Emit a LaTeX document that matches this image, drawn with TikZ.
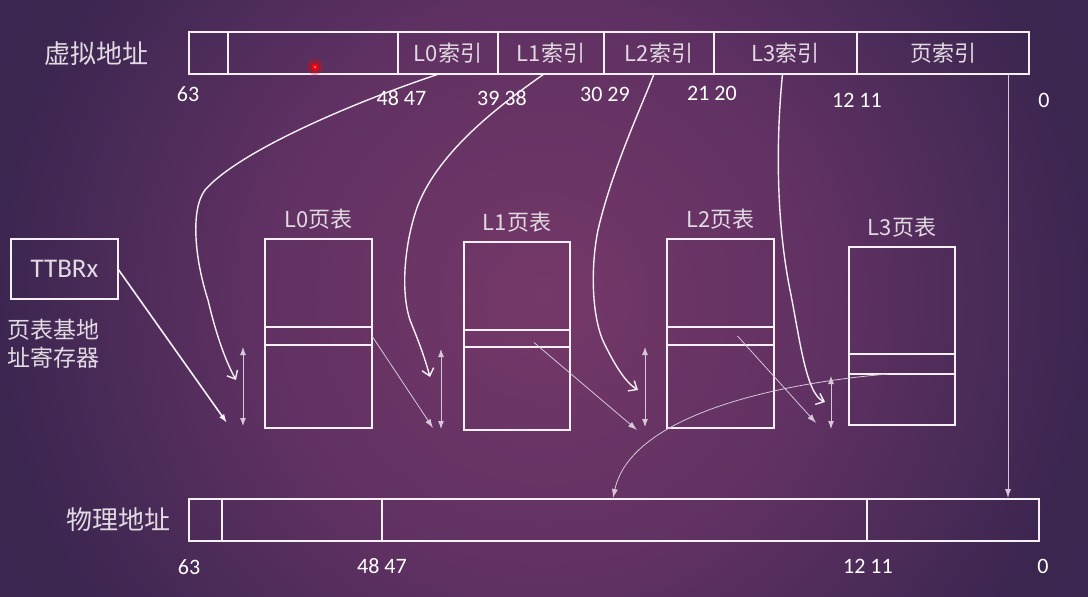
\documentclass[tikz,border=0pt]{standalone}
\usepackage{fontspec}
\setmainfont{Carlito}
\newfontfamily\cjk{Noto Sans CJK SC}
\usetikzlibrary{positioning,arrows.meta}
\definecolor{bgin}{HTML}{753868}
\definecolor{bgmid}{HTML}{5F3162}
\definecolor{bgout}{HTML}{3B2650}
\definecolor{bgedge}{HTML}{33234A}
\definecolor{ink}{HTML}{E2DAE2}
\definecolor{wire}{HTML}{F4F0F4}
\definecolor{faint}{HTML}{D6C8D6}
\pgfdeclareradialshading{bgglow}{\pgfpoint{0bp}{0bp}}{color(0bp)=(bgin); color(12bp)=(bgmid); color(23bp)=(bgout); color(50bp)=(bgedge)}

\begin{document}
\begin{tikzpicture}[x=1pt, y=-1pt,
  every node/.style={outer sep=0pt, inner sep=0pt},
  cell/.style={draw=wire, line width=1.6pt, minimum height=42pt},
  tbl/.style={draw=wire, line width=1.8pt},
  field/.style={text=ink, font=\cjk\fontsize{22}{24}\selectfont},
  bits/.style={text=white, font=\fontsize{22}{24}\selectfont},
  title/.style={text=ink, font=\cjk\fontsize{26}{28}\selectfont},
  hand/.style={draw=wire, line width=1.4pt, -{Straight Barb[length=7pt,width=12pt]}},
  span/.style={draw=faint, line width=0.9pt, {Latex[length=8pt,width=6pt]}-{Latex[length=8pt,width=6pt]}},
  ptr/.style={draw=faint, line width=0.8pt, -{Latex[length=9pt,width=6pt]}}]
\useasboundingbox (0,0) rectangle (1088,597);
\begin{scope}
\clip (0,0) rectangle (1088,597);
\shade[shading=bgglow] (-56,-302) rectangle (1144,898);
\end{scope}

\node[title] (vname) at (97,54) {虚拟地址};
\node[cell, minimum width=39pt] (v63) at (208.5,53) {};
\node[cell, minimum width=170pt] (vHi) at (313,53) {};
\node[cell, field, minimum width=100pt] (vL0) at (448,53) {L0索引};
\node[cell, field, minimum width=106pt] (vL1) at (551,53) {L1索引};
\node[cell, field, minimum width=110pt] (vL2) at (659,53) {L2索引};
\node[cell, field, minimum width=143pt] (vL3) at (785.5,53) {L3索引};
\node[cell, field, minimum width=172pt] (vPg) at (943,53) {页索引};

\node[bits] (b63) at (188,94) {63};
\node[bits] (b48) at (401.5,98) {48 47};
\node[bits] (b39) at (502,98) {39 38};
\node[bits] (b30) at (605,94) {30 29};
\node[bits] (b21) at (712,93) {21 20};
\node[bits] (b12) at (857,100) {12 11};
\node[bits] (b0) at (1044,100) {0};

\node[tbl, minimum width=107pt, minimum height=60pt, text=ink, font=\fontsize{27}{28}\selectfont] (ttbr) at (64.5,269) {TTBRx};
\node[title, align=left, font=\cjk\fontsize{23}{28}\selectfont] (ttbrname) at (54,344) {页表基地\\址寄存器};

\node[tbl, minimum width=107pt, minimum height=189pt] (t0) at (318.5,333.5) {};
\node[tbl, minimum width=107pt, minimum height=18pt] (e0) at (318.5,336) {};
\node[tbl, minimum width=106pt, minimum height=188pt] (t1) at (517,336) {};
\node[tbl, minimum width=106pt, minimum height=17pt] (e1) at (517,338.5) {};
\node[tbl, minimum width=107pt, minimum height=189pt] (t2) at (720.5,333.5) {};
\node[tbl, minimum width=107pt, minimum height=18pt] (e2) at (720.5,336) {};
\node[tbl, minimum width=106pt, minimum height=178pt] (t3) at (902,336) {};
\node[tbl, minimum width=106pt, minimum height=20pt] (e3) at (902,364) {};
\node[field, above=10pt of t0] (n0) {L0页表};
\node[field, above=10pt of t1] (n1) {L1页表};
\node[field, above=10pt of t2] (n2) {L2页表};
\node[field, above=10pt of t3] (n3) {L3页表};

\node[title] (pname) at (118,520) {物理地址};
\node[cell, minimum width=33pt] (p63) at (205.5,520) {};
\node[cell, minimum width=160pt] (pHi) at (302,520) {};
\node[cell, minimum width=485pt] (pMid) at (624.5,520) {};
\node[cell, minimum width=172pt] (pLo) at (953,520) {};
\node[bits] (c63) at (189,567) {63};
\node[bits] (c48) at (382,566) {48 47};
\node[bits] (c12) at (868,566) {12 11};
\node[bits] (c0) at (1043,566) {0};

\coordinate (a0) at (236,380);
\coordinate (a1) at (430,377);
\coordinate (a2) at (638,390);
\coordinate (a3) at (825,402);
\coordinate (d0t) at (243,347);
\coordinate (d0b) at (243,426);
\coordinate (d1t) at (441,349);
\coordinate (d1b) at (441,429);
\coordinate (d2t) at (645,347);
\coordinate (d2b) at (645,427);
\coordinate (d3t) at (831,376);
\coordinate (d3b) at (831,429);
\coordinate (q0) at (227,423);
\coordinate (q1) at (433,428);
\coordinate (q2) at (637,430);
\coordinate (q3) at (816,423);
\coordinate (q4) at (613,498);
\coordinate (pg) at (1008,498);

\draw[hand] ([xshift=-9pt]vL0.south) .. controls (360,100) and (240,150) .. (205,190) .. controls (190,210) and (195,260) .. (208,300) .. controls (215,330) and (224,358) .. (a0);
\draw[hand] ([xshift=-7pt]vL1.south) .. controls (500,105) and (440,150) .. (418,205) .. controls (405,240) and (400,290) .. (410,320) .. controls (418,340) and (424,355) .. (a1);
\draw[hand] ([xshift=-5pt]vL2.south) .. controls (640,110) and (612,170) .. (598,230) .. controls (590,270) and (592,320) .. (605,345) .. controls (615,365) and (625,382) .. (a2);
\draw[hand] ([xshift=-3pt]vL3.south) .. controls (776,140) and (776,220) .. (790,290) .. controls (800,340) and (806,394) .. (a3);

\draw[ptr, draw=wire, line width=1.6pt] (ttbr.east) -- (q0);
\draw[span] (d0t) -- (d0b);
\draw[span] (d1t) -- (d1b);
\draw[span] (d2t) -- (d2b);
\draw[span] (d3t) -- (d3b);
\draw[ptr] (e0.east) -- (q1);
\draw[ptr] ([xshift=17pt,yshift=-4pt]e1.center) -- (q2);
\draw[ptr] ([xshift=17pt]e2.center) -- (q3);
\draw[ptr] ([xshift=-14pt]e3.south) .. controls (760,385) and (630,420) .. (q4);
\draw[ptr] (vPg.south -| pg) -- (pg);

\fill[red, opacity=0.3] (315,67) circle (8pt);
\fill[red] (315,67) circle (3.5pt);
\fill[red!40!white] (315,67) circle (1.2pt);
\end{tikzpicture}
\end{document}
